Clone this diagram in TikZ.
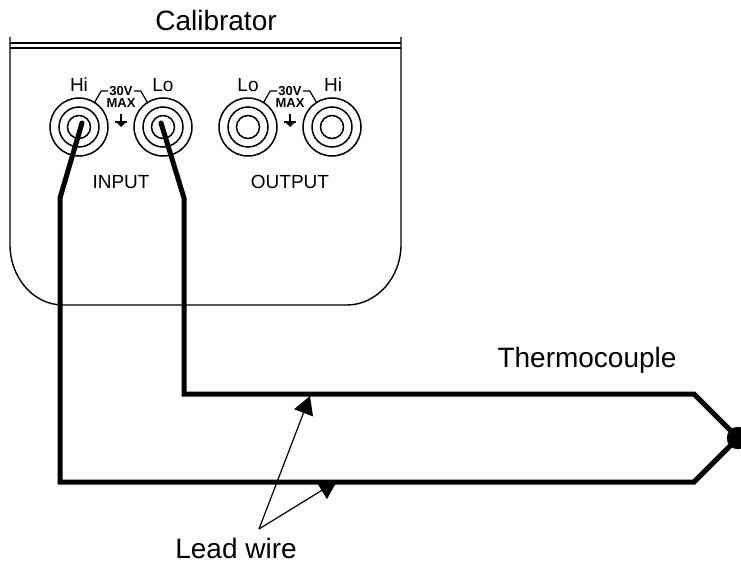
\documentclass[tikz,border=0pt]{standalone}
\usepackage{fontspec}
\setmainfont{Liberation Sans}
\usetikzlibrary{arrows.meta, positioning}

\tikzset{
  every node/.style={inner sep=0pt},
  caption/.style={font=\fontsize{28}{30}\selectfont},
  panel/.style={font=\fontsize{19}{21}\selectfont},
  tiny/.style={font=\fontsize{13}{13}\bfseries\selectfont},
  ring/.style={draw, circle, line width=1.5pt},
  wire/.style={line width=5pt, line join=miter, line cap=round},
  leader/.style={line width=1.2pt, -{Triangle[length=18pt,width=20pt]}}
}

\begin{document}
\begin{tikzpicture}[x=1pt, y=-1pt]
\useasboundingbox (0,0) rectangle (741,567);

\node[caption] (calibrator) at (216,20) {Calibrator};
\node[caption] (thermocouple) at (587,360) {Thermocouple};
\node[caption] (leadwire) at (236,548) {Lead wire};

% panel
\draw[line width=1.4pt] (10,37) -- (10,245) .. controls (10,277) and (33,305) .. (63,305)
  -- (347,305) .. controls (377,305) and (401,277) .. (401,245) -- (401,37);
\draw[line width=1.4pt] (10,43) -- (401,43);
\draw[line width=1.4pt] (10,48) -- (401,48);

% sockets
\foreach \name/\cx in {hiin/79, loin/163, loout/248, hiout/332} {
  \node[ring, minimum size=58pt] (\name) at (\cx,127) {};
  \node[ring, minimum size=40pt] at (\name) {};
  \node[ring, minimum size=23pt] at (\name) {};
}

\node[panel] (hiinlabel) at (79,85) {Hi};
\node[panel] (loinlabel) at (163,85) {Lo};
\node[panel] (looutlabel) at (248,85) {Lo};
\node[panel] (hioutlabel) at (333,85) {Hi};
\node[panel] (input) at (121,182) {INPUT};
\node[panel] (output) at (290,182) {OUTPUT};

\foreach \name/\cx in {a/121, b/290} {
  \node[tiny] (volt\name) at (\cx,91) {30V};
  \node[tiny, below=3pt of volt\name] (max\name) {MAX};
  \draw[line width=1.2pt] (volt\name.west) ++(-1,0) -- ++(-7,0) -- ++(-7,12);
  \draw[line width=1.2pt] (volt\name.east) ++(1,0) -- ++(7,0) -- ++(7,12);
  \draw[line width=1.4pt] (\cx,114) -- (\cx,122);
  \draw[line width=1.6pt] (\cx-6,122) -- (\cx+6,122);
  \fill (\cx-5,122) -- (\cx+5,122) -- (\cx,127) -- cycle;
}

% lead wires
\coordinate (apex) at (259,529);
\coordinate (tipa) at (310,396);
\coordinate (tipb) at (337,481);
\draw[leader] (apex) -- (tipa);
\draw[leader] (apex) -- (tipb);

\coordinate (hibend) at (60,198);
\coordinate (hicorner) at (60,482);
\coordinate (hiend) at (694,482);
\coordinate (lobend) at (184,198);
\coordinate (locorner) at (184,394);
\coordinate (loend) at (694,394);
\node[draw, circle, fill, minimum size=22pt] (junction) at (738,438) {};

\draw[wire] (hiin.center) ++(3,-4) -- (hibend) -- (hicorner) -- (hiend) -- (junction);
\draw[wire] (loin.center) ++(-2,-4) -- (lobend) -- (locorner) -- (loend) -- (junction);
\end{tikzpicture}
\end{document}
